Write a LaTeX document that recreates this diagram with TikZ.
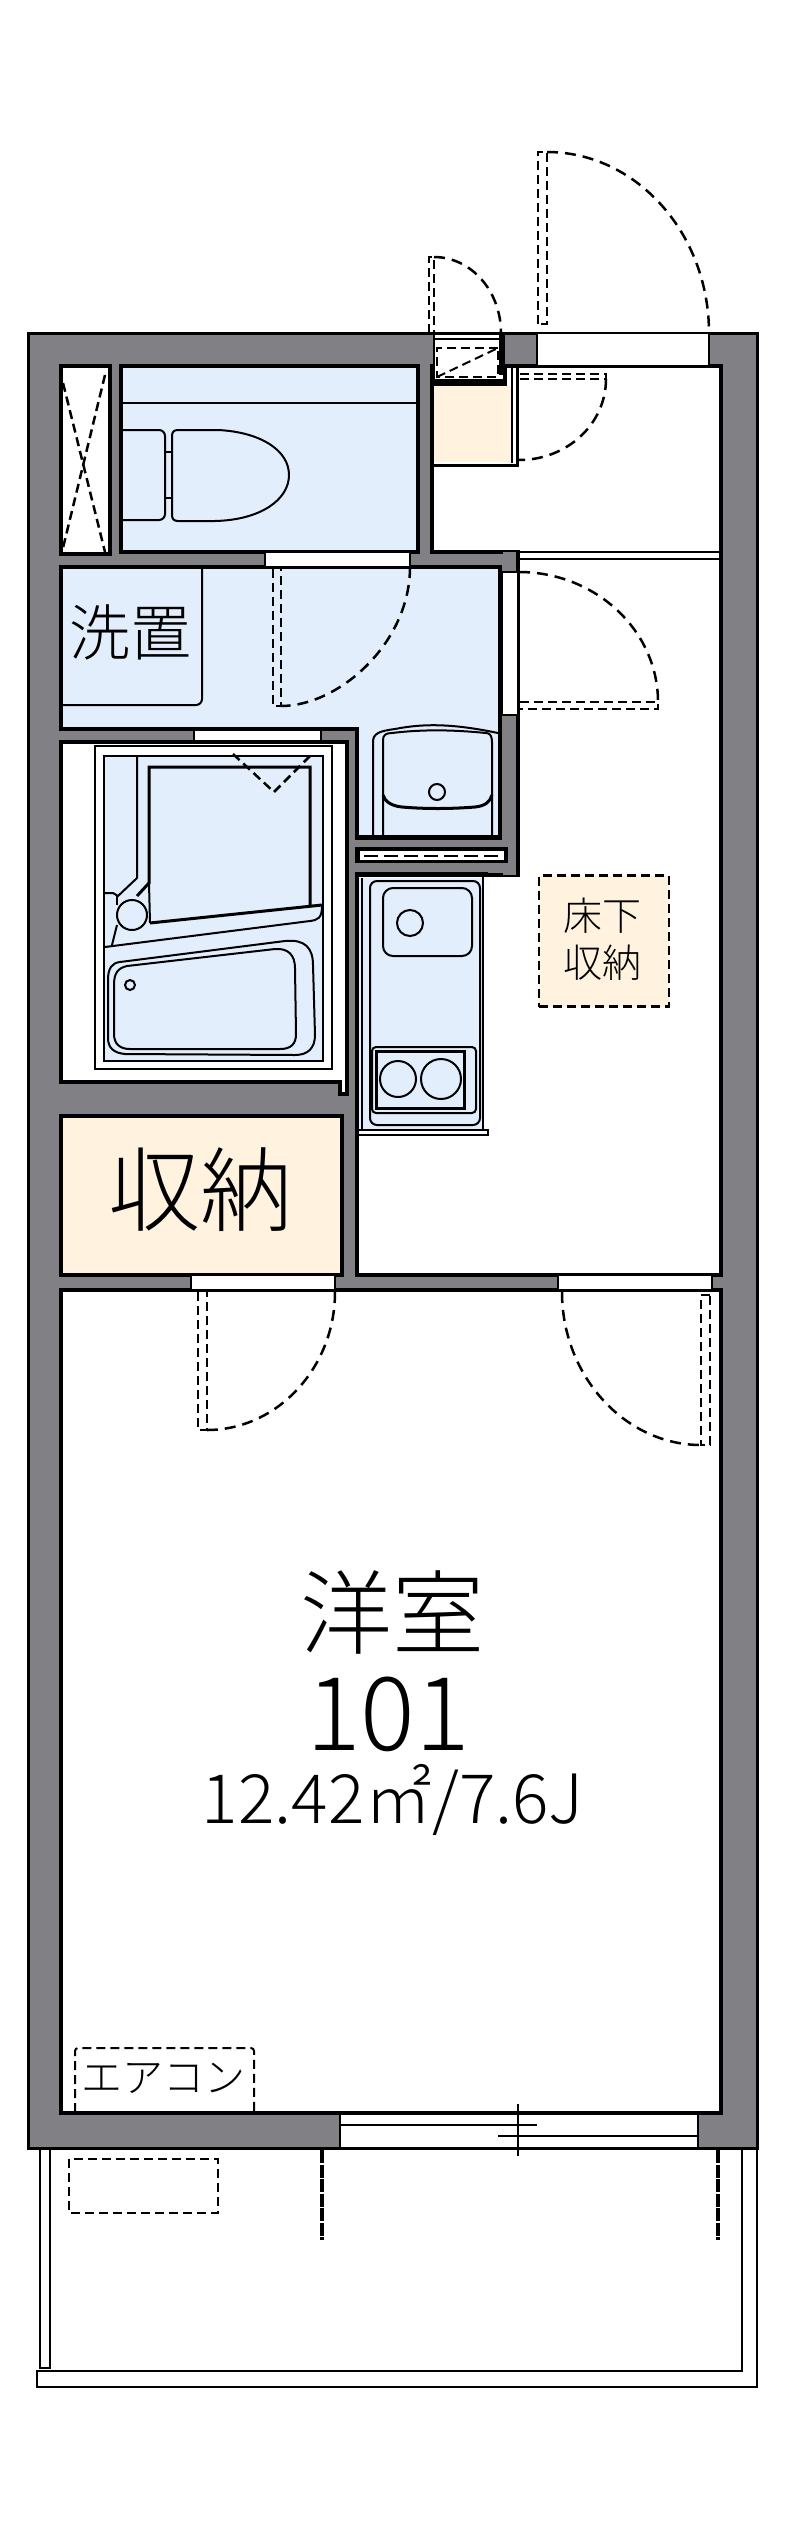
\documentclass[tikz,border=0pt]{standalone}
\usepackage{fontspec}
\setmainfont{Noto Sans CJK JP Light}
\definecolor{wallgray}{HTML}{808085}
\definecolor{wetblue}{HTML}{E3EEFD}
\definecolor{storecream}{HTML}{FFF3E0}
\tikzset{
  wall/.style={fill=wallgray,draw=black,line width=3pt},
  room/.style={fill=white,draw=black,line width=4pt},
  wetroom/.style={room,fill=wetblue},
  storeroom/.style={room,fill=storecream},
  opening/.style={fill=white,draw=black,line width=2pt},
  fixture/.style={draw=black,line width=2pt},
  heavy/.style={draw=black,line width=3pt},
  doorleaf/.style={draw=black,line width=2.5pt,dash pattern=on 9pt off 5pt},
  doorswing/.style={draw=black,line width=2.5pt,dash pattern=on 11pt off 7pt},
  hidden/.style={draw=black,line width=2pt,dash pattern=on 9pt off 5pt},
  shutter/.style={draw=black,line width=4.5pt,dash pattern=on 13pt off 1.5pt},
  smalltext/.style={inner sep=0pt,font=\fontsize{39}{39}\selectfont},
  bigtext/.style={inner sep=0pt,font=\fontsize{92}{92}\selectfont}
}
\begin{document}
\begin{tikzpicture}[x=1pt,y=-1pt]
  \useasboundingbox (0,0) rectangle (800,2540);
  \draw [wall] (28,333) rectangle (757,2148);
  \path [room] (61,366) rectangle (110,554);
  \path [wetroom] (121,366) rectangle (418,552);
  \path [room] (432,366) rectangle (721,552);
  \path [wetroom] (61,567) -- (500,567) -- (500,838) -- (357,838) -- (357,729) -- (61,729) -- cycle;
  \path [room] (61,742) -- (347,742) -- (347,1094) -- (340,1094) -- (340,1082) -- (61,1082) -- cycle;
  \path [storeroom] (61,1116) rectangle (342,1275);
  \path [room] (518,552) -- (721,552) -- (721,1275) -- (357,1275) -- (357,875) -- (518,875) -- cycle;
  \path [room] (61,1290) rectangle (721,2113);
  \draw [fill=wallgray,draw=none] (503,552) rectangle (516,875);
  \draw [fill=white,draw=none] (520,549) rectangle (719,561);
  \draw [fixture] (518,552) -- (721,552);
  \draw [fixture] (518,559) -- (721,559);
  \draw [fill=black,draw=none] (355,847) rectangle (508,863);
  \draw [fill=white,draw=none] (360,851) rectangle (504,860);
  \draw [draw=black,line width=2pt,dash pattern=on 14pt off 6pt] (364,856) -- (500,856);
  \draw [opening] (537,333) rectangle (709,366);
  \draw [opening] (265,552) rectangle (410,567);
  \draw [opening] (194,730) rectangle (321,741);
  \draw [opening] (502,572) rectangle (518,715);
  \draw [opening] (191,1275) rectangle (335,1290);
  \draw [opening] (558,1275) rectangle (712,1290);
  \draw [opening] (340,2114) rectangle (698,2148);
  \draw [fixture] (340,2125) -- (537,2125);
  \draw [fixture] (498,2136) -- (698,2136);
  \draw [fixture] (518,2104) -- (518,2156);
  % entrance
  \draw [fill=white,draw=none] (434,335) rectangle (501,380);
  \draw [fixture] (434,339) -- (501,339);
  \draw [fixture] (434,334) -- (434,380);
  \draw [fill=black,draw=none] (432,379) rectangle (506,386);
  \draw [fill=black,draw=none] (499,333) rectangle (505,375);
  \draw [fill=black,draw=none] (503,366) rectangle (507,386);
  \draw [hidden] (498,348) -- (437,348) -- (437,377) -- (498,377) -- (498,348) -- cycle;
  \draw [hidden] (437,377) -- (498,348);
  \draw [fill=storecream,draw=none] (434,386) rectangle (511,462);
  \draw [fixture] (512,366) -- (512,463);
  \draw [heavy] (517.5,366) -- (517.5,465) -- (432,465);
  % doors
  \draw [doorleaf] (538,324) rectangle (547,152);
  \draw [doorswing] (547,152) .. controls (636,152) and (709,233) .. (709,333);
  \draw [doorleaf] (429,333) -- (429,257) -- (434,257) -- (434,333);
  \draw [doorswing] (434,257) .. controls (471,257) and (501,291) .. (501,333);
  \draw [doorleaf] (520,374) -- (606,374) -- (606,379) -- (520,379);
  \draw [doorswing] (606,379) .. controls (606,424) and (567,460) .. (519,460);
  \draw [doorleaf] (520,702) -- (658,702) -- (658,709) -- (520,709);
  \draw [doorswing] (519,572) .. controls (595,572) and (658,630) .. (658,702);
  \draw [doorleaf] (273,569) -- (273,706) -- (281,706) -- (281,569);
  \draw [doorswing] (410,567) .. controls (410,643) and (339,706) .. (281,706);
  \draw [doorleaf] (198,1292) -- (198,1430) -- (207,1430) -- (207,1292);
  \draw [doorswing] (335,1292) .. controls (335,1368) and (277,1430) .. (207,1430);
  \draw [doorleaf] (710,1295) -- (701,1295) -- (701,1445) -- (710,1445) -- cycle;
  \draw [doorswing] (562,1292) .. controls (562,1376) and (625,1445) .. (701,1445);
  % shaft
  \draw [doorleaf] (63,383) -- (105,552);
  \draw [doorleaf] (105,375) -- (62,552);
  % toilet
  \draw [fixture] (123,403) -- (418,403);
  \draw [fixture,rounded corners=6pt] (123,430) -- (165,430) -- (165,520) -- (123,520);
  \draw [fixture] (165,452) -- (172,452);
  \draw [fixture] (165,498) -- (172,498);
  \draw [fixture,fill=wetblue] (172,436) .. controls (172,432) and (174,430) .. (178,430) -- (218,430)
    .. controls (260,432) and (289,450) .. (289,475) .. controls (289,500) and (260,520) .. (215,521) -- (178,521)
    .. controls (174,521) and (172,519) .. (172,515) -- cycle;
  % washing machine pan and basin
  \draw [fixture,rounded corners=6pt] (63,705) -- (202,705) -- (202,567);
  \draw [fixture] (373,835) -- (373,742) .. controls (373,733) and (380,731) .. (395,729) .. controls (425,723) and (455,724) .. (498,733);
  \draw [fixture] (383,835) -- (383,740) .. controls (383,735) and (386,733) .. (392,733) .. controls (425,729) and (455,730) .. (486,733)
    .. controls (490,733) and (492,736) .. (492,742) -- (492,835);
  \draw [heavy] (383,795) .. controls (385,802) and (392,806) .. (402,807) .. controls (425,809) and (450,809) .. (475,807) .. controls (485,806) and (490,802) .. (492,795);
  \draw [fixture] (437,792) circle (8pt);
  \draw [heavy] (357,836) -- (500,836);
  % unit bath
  \draw [fixture,fill=white] (95,746) rectangle (332,1069);
  \draw [fixture,fill=wetblue] (104,756) rectangle (323,1061);
  \draw [fixture] (137,757) -- (137,878) -- (118,896) -- (113,893) -- (105,893);
  \draw [heavy] (137,896) -- (149,883) -- (149,767) -- (310,767) -- (310,907);
  \draw [heavy] (150,923) -- (322,905);
  \draw [fixture] (105,947) -- (310,921) .. controls (318,920) and (322,918) .. (322,906);
  \draw [fixture] (112,945) -- (117,925);
  \draw [fixture] (117,895) -- (117,905);
  \draw [fixture] (132,915) circle (15pt);
  \draw [fixture] (149,883) -- (150,923);
  \draw [fixture] (108,980) .. controls (108,968) and (112,963) .. (120,962) -- (285,941) .. controls (305,939) and (313,948) .. (313,965)
    -- (315,1035) .. controls (315,1048) and (308,1055) .. (295,1055) -- (125,1054) .. controls (114,1053) and (108,1048) .. (108,1038) -- cycle;
  \draw [fixture] (114,985) .. controls (114,973) and (118,968) .. (127,966) -- (275,949) .. controls (288,948) and (295,955) .. (295,968)
    -- (296,1034) .. controls (296,1044) and (291,1049) .. (280,1049) -- (130,1049) .. controls (120,1049) and (114,1044) .. (114,1034) -- cycle;
  \draw [fixture] (130,985) circle (5pt);
  \draw [doorleaf] (233,754) -- (274,792) -- (312,754);
  % kitchen
  \draw [fill=wetblue,draw=none] (359,878) rectangle (483,1130);
  \draw [heavy] (355,873.5) -- (488,873.5);
  \draw [fixture] (362,878) -- (362,1130);
  \draw [fixture] (483,876) -- (483,1130);
  \draw [fixture,rounded corners=7pt] (370,881) rectangle (480,1125);
  \draw [fixture,rounded corners=10pt] (383,888) rectangle (472,956);
  \draw [fixture] (410,923) circle (13pt);
  \draw [fixture,fill=wetblue,rounded corners=4pt] (372,1047) rectangle (476,1113);
  \draw [heavy] (376,1051) rectangle (464,1108);
  \draw [fixture] (398,1079) circle (18pt);
  \draw [fixture] (441,1079) circle (20pt);
  \draw [fixture] (357,1130) rectangle (488,1135);
  % balcony
  \draw [fixture] (40,2148) -- (40,2368) -- (50,2368) -- (50,2148);
  \draw [fixture] (742,2148) -- (742,2371) -- (37,2371) -- (37,2387) -- (757,2387) -- (757,2148);
  \draw [shutter] (322,2150) -- (322,2240);
  \draw [shutter] (718,2150) -- (718,2240);
  \draw [hidden] (69,2159) rectangle (218,2213);
  % storage under the floor and air conditioner
  \node [draw=black,fill=storecream,line width=2.5pt,dash pattern=on 9pt off 5pt,minimum width=130pt,minimum height=131pt,inner sep=0pt] (underfloor) at (604,941) {};
  \node [smalltext] (underfloortop) at (602,916) {床下};
  \node [smalltext] (underfloorlow) at (602,963) {収納};
  \draw [hidden,rounded corners=3pt] (75,2112) -- (75,2048) -- (254,2048) -- (254,2112);
  \node [smalltext,font=\fontsize{41}{41}\selectfont] (aircon) at (163,2078) {エアコン};
  \node [inner sep=0pt,font=\fontsize{61}{61}\selectfont] (washer) at (130,632) {洗置};
  \node [bigtext] (closet) at (200,1190) {収納};
  \node [bigtext] (western) at (392,1612) {洋室};
  \node [inner sep=0pt,font=\fontsize{102}{102}\selectfont] (number) at (388,1714) {101};
  \node [inner sep=0pt,font=\fontsize{68}{68}\selectfont] (area) at (393,1800) {12.42㎡/7.6J};
\end{tikzpicture}
\end{document}
